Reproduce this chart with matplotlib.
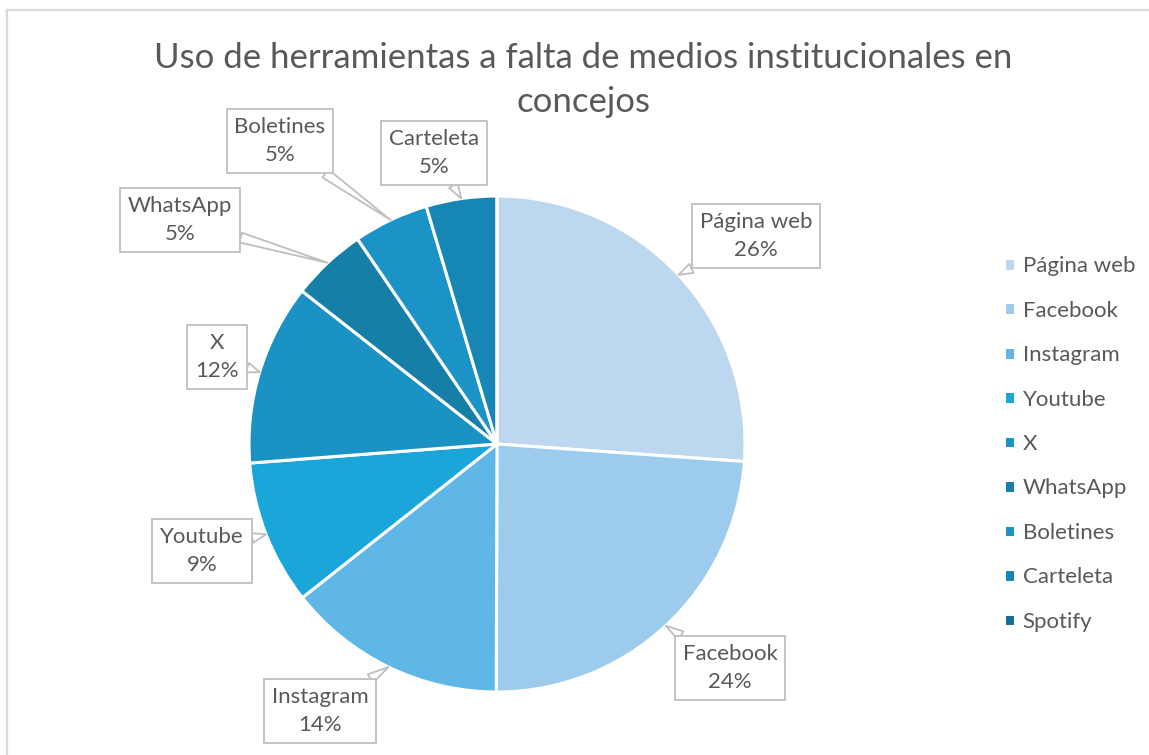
import numpy as np
import matplotlib
matplotlib.use("Agg")
import matplotlib.pyplot as plt
from matplotlib.lines import Line2D

# Data
# -----------------------------
categories = ["Página web", "Facebook", "Instagram", "Youtube", "X",
              "WhatsApp", "Boletines", "Carteleta", "Spotify"]
shares = [26.1, 23.9, 14.3, 9.4, 11.8, 4.9, 4.9, 4.6, 0.0]
colors = ["#BDD7EE", "#9DCBEE", "#5EB7E6", "#1BA6DA", "#1A92C4",
          "#157FA8", "#1C93C6", "#1687B5", "#136E93"]
title = "Uso de herramientas a falta de medios institucionales en\nconcejos"

# label box centres (pixel layout, y from top)
label_pos = {"Página web": (756, 236), "Facebook": (730, 668),
             "Instagram": (320, 711), "Youtube": (202, 551),
             "X": (217, 357), "WhatsApp": (180, 220),
             "Boletines": (280, 141), "Carteleta": (434, 153)}

W, H = 1149, 755
txt_col = "#595959"
plt.rcParams["font.family"] = ["Lato", "DejaVu Sans"]

fig = plt.figure(figsize=(W / 100, H / 100), dpi=100)
ax = fig.add_axes([0, 0, 1, 1])

cx, cy, r = 497, H - 444, 248
wedges, _ = ax.pie(shares, colors=colors, startangle=90, counterclock=False,
                   center=(cx, cy), radius=r, frame=True,
                   wedgeprops=dict(edgecolor="white", linewidth=2.2))
ax.set_xlim(0, W)
ax.set_ylim(0, H)
ax.set_aspect("equal")
ax.axis("off")

total = sum(shares)
for w, name, val in zip(wedges, categories, shares):
    if val <= 0:
        continue
    mid = np.deg2rad((w.theta1 + w.theta2) / 2)
    px, py = cx + r * np.cos(mid), cy + r * np.sin(mid)
    bx, by = label_pos[name]
    ax.annotate(f"{name}\n{round(val / total * 100)}%", xy=(px, py),
                xytext=(bx, H - by), ha="center", va="center",
                fontsize=16, color=txt_col, linespacing=1.5,
                bbox=dict(boxstyle="square,pad=0.35", fc="white", ec="#BFBFBF", lw=1.3),
                arrowprops=dict(arrowstyle="wedge,tail_width=0.45", fc="white",
                                ec="#BFBFBF", lw=1.3, shrinkA=0, shrinkB=0))

fig.text(583 / W, 1 - 42 / H, title, ha="center", va="top", fontsize=25,
         color=txt_col, linespacing=1.45)

ax.legend(wedges, categories, loc="center left", bbox_to_anchor=(995 / W, 1 - 444 / H),
          frameon=False, fontsize=16, labelcolor=txt_col, handlelength=0.5,
          handleheight=0.5, handletextpad=0.35, labelspacing=1.1, borderaxespad=0)

# chart border (top and left only visible)
fig.add_artist(Line2D([6.5 / W, 6.5 / W], [0, 1 - 9.5 / H], color="#D9D9D9", lw=1.6))
fig.add_artist(Line2D([6.5 / W, 1], [1 - 9.5 / H, 1 - 9.5 / H], color="#D9D9D9", lw=1.6))

fig.savefig("out.png", dpi=100)
